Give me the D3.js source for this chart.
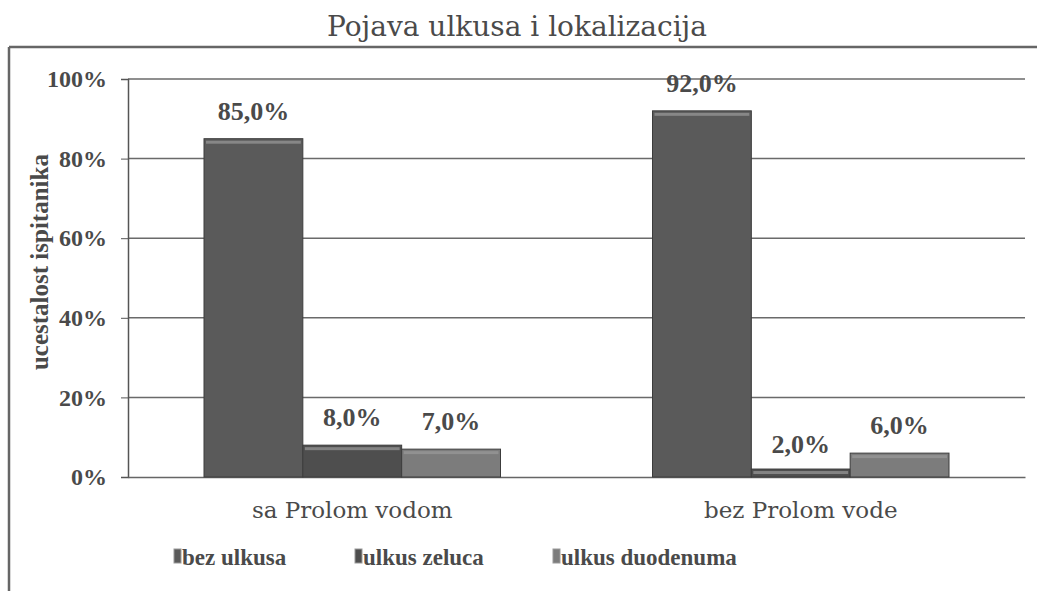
<!DOCTYPE html>
<html>
<head>
<meta charset="utf-8">
<script src="https://cdn.jsdelivr.net/npm/d3@7"></script>
<style>
  body { margin: 0; background: #fff; }
  svg text { fill: #4a4a4a; }
</style>
</head>
<body>
<div class="container"></div>
<script>
const categories = ['sa Prolom vodom', 'bez Prolom vode'];
const seriesNames = ['bez ulkusa', 'ulkus zeluca', 'ulkus duodenuma'];
const bezUlkusa = [85.0, 92.0];
const ulkusZeluca = [8.0, 2.0];
const ulkusDuodenuma = [7.0, 6.0];
const yTicks = [0, 20, 40, 60, 80, 100];

const w = 1037, h = 591;
const margin = { top: 79, bottom: 114, left: 128, right: 12 };
const colors = ['#5a5a5a', '#4e4e4e', '#7c7c7c'];
const times = '"Liberation Serif", "Times New Roman", serif';
const wide = '"DejaVu Serif", serif';

const dataset = categories.map((c, i) => ({
    cat: c,
    values: [bezUlkusa[i], ulkusZeluca[i], ulkusDuodenuma[i]]
}));

const svg = d3.select('div.container')
    .append('svg')
    .attr('width', w)
    .attr('height', h)
    .attr('font-family', times);

// outer frame (top + left edge visible in the scan)
svg.append('line').attr('x1', 9).attr('x2', w).attr('y1', 47).attr('y2', 47)
    .attr('stroke', '#666').attr('stroke-width', 2.5);
svg.append('line').attr('x1', 9).attr('x2', 9).attr('y1', 47).attr('y2', h)
    .attr('stroke', '#666').attr('stroke-width', 2.5);

svg.append('text')
    .attr('x', 517).attr('y', 36)
    .attr('text-anchor', 'middle')
    .attr('font-family', wide)
    .style('font-size', '28px')
    .text('Pojava ulkusa i lokalizacija');

const xScale = d3.scaleBand()
    .domain(categories)
    .range([margin.left, w - margin.right])
    .paddingInner(0)
    .paddingOuter(0);

const xSub = d3.scaleBand()
    .domain(seriesNames)
    .range([76, xScale.bandwidth() - 76]);

const yScale = d3.scaleLinear()
    .domain([0, 100])
    .range([h - margin.bottom, margin.top]);

// gridlines
svg.append('g')
    .selectAll('line')
    .data(yTicks.filter(d => d > 0))
    .enter()
    .append('line')
    .attr('x1', margin.left)
    .attr('x2', w - margin.right)
    .attr('y1', d => yScale(d))
    .attr('y2', d => yScale(d))
    .attr('stroke', '#6a6a6a')
    .attr('stroke-width', 1.5);

const yAxis = d3.axisLeft(yScale)
    .tickValues(yTicks)
    .tickSize(7)
    .tickFormat(d => d + '%');

const yG = svg.append('g')
    .attr('transform', 'translate(' + margin.left + ',0)')
    .call(yAxis)
    .attr('font-family', times);
yG.select('.domain').attr('stroke', '#555').attr('stroke-width', 1.5);
yG.selectAll('.tick line').attr('stroke', '#555');
yG.selectAll('.tick text')
    .attr('x', -21)
    .style('font-size', '24px')
    .style('font-weight', 'bold')
    .attr('fill', '#4a4a4a');

const xAxis = d3.axisBottom(xScale).tickSize(0);
const xG = svg.append('g')
    .attr('transform', 'translate(0,' + yScale(0) + ')')
    .call(xAxis)
    .attr('font-family', wide);
xG.select('.domain').attr('stroke', '#666').attr('stroke-width', 1.5);
xG.selectAll('.tick text')
    .attr('dy', 0)
    .attr('y', 41)
    .style('font-size', '23px')
    .attr('fill', '#444');

svg.append('text')
    .attr('transform', 'translate(48,' + yScale(54) + ') rotate(-90)')
    .attr('text-anchor', 'middle')
    .style('font-size', '25px')
    .style('font-weight', 'bold')
    .text('ucestalost ispitanika');

const groups = svg.selectAll('g.grp')
    .data(dataset)
    .enter()
    .append('g')
    .attr('class', 'grp')
    .attr('transform', d => 'translate(' + xScale(d.cat) + ',0)');

const barData = d => d.values.map((v, i) => ({ v, s: seriesNames[i], i }));

groups.selectAll('rect.bar')
    .data(barData)
    .enter()
    .append('rect')
    .attr('class', 'bar')
    .attr('x', d => xSub(d.s))
    .attr('y', d => yScale(d.v))
    .attr('width', xSub.bandwidth())
    .attr('height', d => yScale(0) - yScale(d.v))
    .attr('fill', d => colors[d.i])
    .attr('stroke', '#3c3c3c')
    .attr('stroke-width', 1);

// light top rim as in the scanned 3-D bars
groups.selectAll('rect.rim')
    .data(barData)
    .enter()
    .append('rect')
    .attr('class', 'rim')
    .attr('x', d => xSub(d.s) + 2)
    .attr('y', d => yScale(d.v) + 2)
    .attr('width', xSub.bandwidth() - 4)
    .attr('height', d => Math.min(3, yScale(0) - yScale(d.v) - 3))
    .attr('fill', '#9a9a9a')
    .attr('opacity', 0.7);

groups.selectAll('text.lbl')
    .data(barData)
    .enter()
    .append('text')
    .attr('class', 'lbl')
    .attr('x', d => xSub(d.s) + xSub.bandwidth() / 2)
    .attr('y', d => yScale(d.v) - (d.v < 5 ? 16 : 19))
    .attr('text-anchor', 'middle')
    .style('font-size', '26px')
    .style('font-weight', 'bold')
    .text(d => d.v.toFixed(1).replace('.', ',') + '%');

// legend
const legX = [174, 355, 553];
const leg = svg.append('g')
    .selectAll('g')
    .data(seriesNames)
    .enter()
    .append('g')
    .attr('transform', (d, i) => 'translate(' + legX[i] + ',558)');
leg.append('rect')
    .attr('x', 0).attr('y', -9)
    .attr('width', 7).attr('height', 14)
    .attr('fill', (d, i) => colors[i])
    .attr('stroke', '#999');
leg.append('text')
    .attr('x', 8).attr('y', 7)
    .style('font-size', '23px')
    .style('font-weight', 'bold')
    .text(d => d);
</script>
</body>
</html>
